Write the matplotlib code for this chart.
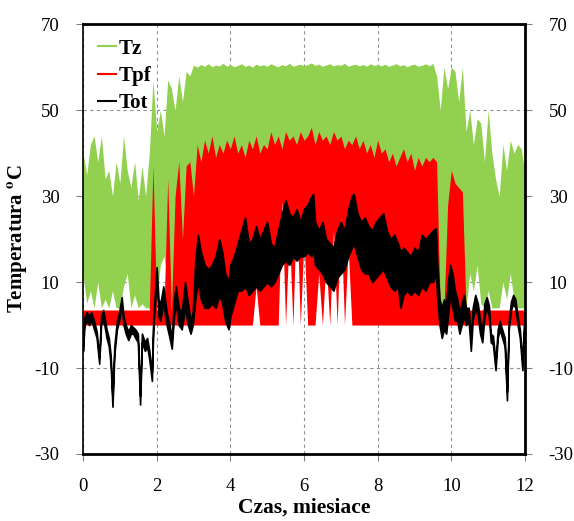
import numpy as np
import matplotlib
matplotlib.use("Agg")
import matplotlib.pyplot as plt

plt.rcParams['font.family'] = ['Liberation Serif', 'DejaVu Serif']
plt.rcParams['mathtext.fontset'] = 'stix'
plt.rcParams['axes.unicode_minus'] = False

# Month grid for the Tz / Tpf envelopes (0.1 month step)
months = np.round(np.arange(0, 12.01, 0.1), 1)

# Tz - upper and lower envelope (deg C)
tz_hi = [40, 35, 42, 44, 38, 44, 34, 36, 30, 38,
         33, 44, 36, 32, 38, 29, 37, 30, 40, 57,
         45, 50, 44, 57, 55, 50, 58, 52, 59, 58,
         60.5, 60, 60.6, 60.2, 60.8, 60.1, 60.5, 60.3, 60.9, 60.2,
         60.6, 60.1, 60.4, 60.8, 60.2, 60.5, 60.0, 60.7, 60.3, 60.6,
         60.2, 60.8, 60.4, 60.1, 60.6, 60.3, 60.9, 60.2, 60.5, 60.7,
         60.3, 60.6, 61.0, 60.4, 60.7, 60.2, 60.5, 60.8, 60.3, 60.6,
         60.4, 60.9, 60.2, 60.5, 60.7, 60.3, 60.6, 60.2, 60.8, 60.4,
         60.6, 60.3, 60.7, 60.2, 60.5, 60.8, 60.3, 60.6, 60.1, 60.5,
         60.7, 60.2, 60.4, 60.8, 60.3, 60.9, 58, 50, 60, 55,
         60, 59, 52, 60, 45, 50, 42, 48, 47, 38,
         50, 40, 34, 30, 42, 36, 43, 40, 42, 41,
         35]
tz_lo = [12, 5, 8, 4, 10, 4, 6, 4, 8, 4,
         4, 9, 12, 4, 7, 4, 5, 4, 4, 4,
         6, 14, 16, 10, 5, 4, 4, 4, 6, 8,
         10, 15, 16, 18, 17, 19, 18, 20, 19, 20,
         20, 21, 20, 22, 21, 30, 30, 30, 30, 30,
         30, 30, 30, 30, 30, 30, 30, 30, 30, 30,
         30, 30, 30, 30, 30, 30, 30, 30, 30, 30,
         30, 30, 30, 30, 30, 30, 20, 20, 20, 20,
         20, 20, 20, 20, 20, 20, 20, 20, 20, 20,
         20, 20, 20, 20, 20, 20, 12, 4, 4, 4,
         4, 4, 4, 4, 4, 12, 8, 14, 5, 4,
         8, 4, 4, 4, 10, 6, 12, 6, 4, 4,
         4]

# Tpf - upper and lower envelope (deg C)
tpf_hi = [3.5] * 19 + [37, 3.5, 3.5, 3.5, 34, 3.5, 30, 38, 20, 37, 38,
          30, 42, 38, 43, 40, 44, 39, 42, 40, 43,
          41, 44, 40, 42, 39, 43, 41, 44, 40, 42,
          41, 45, 42, 44, 41, 45, 43, 44, 42, 45,
          43, 44, 46, 42, 45, 43, 44, 42, 45, 43,
          44, 41, 43, 42, 44, 41, 43, 40, 42, 39,
          43, 40, 41, 38, 40, 37, 39, 41, 38, 40,
          36, 39, 37, 39, 38, 39, 38, 3.5, 3.5, 28,
          36, 33, 32, 31, 3.5] + [3.5] * 16
tpf_lo = [0] * 47 + [9] + [0] * 6 + [29, 0, 22, 0, 28, 0, 20, 0] + \
         [0, 0, 12, 0] + [15, 0, 22, 0, 25, 0, 18, 0] + [0] * 47

# Tot - outdoor temperature, band of daily swings
tot_m = [0.00, 0.04, 0.10, 0.17, 0.22, 0.30, 0.37, 0.44, 0.49, 0.55,
         0.64, 0.70, 0.75, 0.80, 0.85, 0.92, 0.98, 1.05, 1.10, 1.16,
         1.23, 1.30, 1.36, 1.42, 1.49, 1.55, 1.60, 1.68, 1.74, 1.80,
         1.87, 1.91, 2.00, 2.05, 2.10, 2.18, 2.27, 2.35, 2.41, 2.47,
         2.52, 2.60, 2.68, 2.77, 2.85, 2.92, 2.98, 3.05, 3.12, 3.20,
         3.30, 3.40, 3.50, 3.60, 3.70, 3.78, 3.86, 3.95, 4.00, 4.10,
         4.20, 4.30, 4.40, 4.50, 4.60, 4.70, 4.80, 4.90, 5.00, 5.10,
         5.20, 5.30, 5.40, 5.50, 5.60, 5.70, 5.80, 5.90, 6.00, 6.10,
         6.20, 6.25, 6.30, 6.40, 6.50, 6.60, 6.70, 6.80, 6.90, 7.00,
         7.10, 7.20, 7.30, 7.35, 7.45, 7.55, 7.65, 7.75, 7.85, 7.95,
         8.05, 8.15, 8.25, 8.35, 8.45, 8.55, 8.62, 8.70, 8.80, 8.90,
         9.00, 9.10, 9.20, 9.30, 9.40, 9.50, 9.58, 9.62, 9.68, 9.74,
         9.80, 9.86, 9.92, 9.97, 10.03, 10.10, 10.16, 10.22, 10.28, 10.34,
         10.40, 10.47, 10.53, 10.58, 10.65, 10.72, 10.78, 10.84, 10.90, 10.96,
         11.02, 11.07, 11.13, 11.20, 11.26, 11.31, 11.38, 11.45, 11.51, 11.56,
         11.62, 11.68, 11.74, 11.80, 11.86, 11.93, 11.97, 12.00]
tot_lo = [-6, 0, 1, 0, 1.5, -1, -3, -9, 0, 1.5,
          -3, -5, -9, -19, -7, -1, 1, 4.5, 0, -2,
          -3.5, -2, -2, -3, -4, -18.5, -4, -6, -5, -8,
          -13, 0, 10, 2, 1, 5, 0, -3, -5.5, 2,
          5, 0, -1, 4, 0, -2, 0, 6, 10, 6,
          4, 4, 5, 4, 7, 5, 1, -1, 2, 5,
          8, 8, 9, 7, 8, 9, 8, 9, 10, 9,
          10, 12, 14, 15, 14, 16, 15, 16, 16, 17,
          16, 18, 14, 13, 12, 10, 9, 8, 11, 12,
          13, 16, 18, 19, 16, 13, 12, 12, 10, 11,
          12, 13, 11, 9, 8, 9, 4, 7, 8, 7,
          8, 7, 9, 8, 10, 10, 12, 6, 0, -3,
          -1, -2, 3, 7, 4, 1, 1, -2, 0, 2,
          0, 1, -6, 1, 4, 2, -2, -4, 2, 4,
          2, -4, -4.5, -10.5, -3, -1, -3, -5, -17.5, -1,
          3.5, 5, 4, 0, -3, -10.5, -2, 0]
tot_hi = [-4, 2, 3, 2, 3, 1, -1.5, -7.5, 2, 3.5,
          -1, -3, -7, -17, -5, 1, 3, 6.5, 2, 0,
          -1.5, 0, -0.5, -1, -2, -16.5, -2, -4, -3, -6,
          -11, 2, 13.5, 6, 5, 9, 3, 0, -3, 6,
          9, 4, 3, 10, 5, 1, 3, 15, 21, 17,
          14, 13, 14, 16, 20, 17, 12, 10, 14, 16,
          19, 22, 25, 19, 20, 23, 20, 22, 24, 19,
          18, 22, 26, 29, 26, 25, 27, 24, 27, 28,
          30, 30.5, 24, 22, 24, 20, 19, 18, 22, 24,
          22, 27, 30, 30.5, 26, 24, 25, 23, 22, 24,
          25, 26, 22, 20, 21, 19, 17, 18, 17, 16,
          18, 17, 21, 20, 21, 22, 22.5, 14, 6, 4,
          6, 5, 11, 14, 12, 8, 6, 3, 5, 7,
          4, 4, -3, 4, 7, 5, 1, -1, 5, 6.5,
          4.5, -2, -2.5, -8.5, -1, 1, -1, -3, -15.5, 1,
          5.5, 7, 6, 2, -1, -8.5, 0, 2]

green = '#92d050'
red = '#ff0000'

fig = plt.figure(figsize=(5.74, 5.21), dpi=100)
ax = fig.add_axes([0.1446, 0.1286, 0.77, 0.825])

ax.fill_between(months, tz_lo, tz_hi, color=green, lw=0)
ax.fill_between(months, tpf_lo, tpf_hi, color=red, lw=0)
ax.fill_between(tot_m, tot_lo, tot_hi, color='black', lw=1.2, edgecolor='black')

# legend handles
ax.plot([], [], color=green, lw=1.5, label='Tz')
ax.plot([], [], color=red, lw=1.5, label='Tpf')
ax.plot([], [], color='black', lw=1.5, label='Tot')

ax.set_xlim(0, 12)
ax.set_ylim(-30, 70)
ax.set_xticks(range(0, 13, 2))
ax.set_yticks(range(-30, 71, 20))
ax.set_axisbelow(True)
ax.grid(True, color='#909090', linestyle=(0, (3, 3)), linewidth=0.8)

ax.tick_params(axis='both', labelsize=13.5, length=5, color='#808080',
               right=True, labelright=True, pad=12)
ax.tick_params(axis='x', pad=12)
for side in ['top', 'bottom', 'right']:
    ax.spines[side].set_linewidth(2.0)
ax.spines['left'].set_linewidth(1.2)

ax.set_xlabel('Czas, miesiace', fontsize=15.5, fontweight='bold', labelpad=2)
ax.set_ylabel(r'Temperatura $\mathbf{^o}$C', fontsize=15, fontweight='bold', labelpad=4)

leg = ax.legend(loc='upper left', frameon=False, handlelength=0.9,
                handletextpad=0.1, labelspacing=0.35, borderaxespad=0.3,
                prop={'weight': 'bold', 'size': 15})

fig.savefig('out.png', dpi=100)
